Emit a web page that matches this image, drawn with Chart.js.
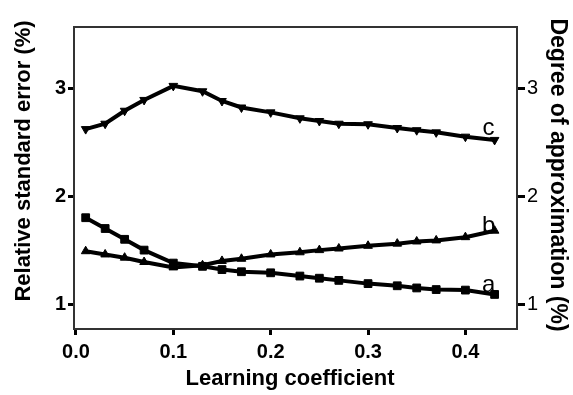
<!DOCTYPE html>
<html>
<head>
<meta charset="utf-8">
<script src="https://cdn.jsdelivr.net/npm/chart.js@4"></script>
<style>
  html, body { margin: 0; padding: 0; background: #fff; }
  #wrap { width: 573px; height: 395px; }
</style>
</head>
<body>
<div id="wrap"><canvas id="chart" width="573" height="395"></canvas></div>
<script>
// data
var learningCoef = [0.01, 0.03, 0.05, 0.07, 0.10, 0.13, 0.15, 0.17, 0.20, 0.23, 0.25, 0.27, 0.30, 0.33, 0.35, 0.37, 0.40, 0.43];
var seriesA = [1.80, 1.70, 1.60, 1.50, 1.38, 1.35, 1.32, 1.30, 1.29, 1.26, 1.24, 1.22, 1.19, 1.17, 1.15, 1.135, 1.13, 1.09];
var seriesB = [1.49, 1.46, 1.43, 1.39, 1.34, 1.36, 1.40, 1.42, 1.46, 1.48, 1.50, 1.515, 1.54, 1.56, 1.58, 1.59, 1.62, 1.68];
var seriesC = [2.62, 2.67, 2.79, 2.89, 3.02, 2.97, 2.88, 2.82, 2.775, 2.72, 2.695, 2.67, 2.665, 2.63, 2.61, 2.59, 2.55, 2.52];
var seriesNames = ['a', 'b', 'c'];
var xTicks = [0, 0.1, 0.2, 0.3, 0.4];
var yTicks = [1, 2, 3];
var xTitle = 'Learning coefficient';
var yTitle = 'Relative standard error (%)';
var y1Title = 'Degree of approximation (%)';

function pts(ys) {
    return learningCoef.map(function (x, i) { return { x: x, y: ys[i] }; });
}

var FONT = "'Liberation Sans', Arial, sans-serif";

// frame round the plot area
var frame = {
    id: 'frame',
    beforeDatasetsDraw: function (chart) {
        var a = chart.chartArea, ctx = chart.ctx;
        ctx.save();
        ctx.strokeStyle = '#333';
        ctx.lineWidth = 2;
        ctx.strokeRect(a.left, a.top, a.right - a.left, a.bottom - a.top);
        ctx.restore();
    }
};

// axis titles, placed by hand so they sit where the figure has them
var axisTitles = {
    id: 'axisTitles',
    afterDraw: function (chart) {
        var ctx = chart.ctx;
        ctx.save();
        ctx.fillStyle = '#000';
        ctx.textAlign = 'center';

        ctx.font = 'bold 22px ' + FONT;
        ctx.textBaseline = 'alphabetic';
        ctx.fillText(xTitle, 290, 385);

        ctx.textBaseline = 'middle';
        ctx.save();
        ctx.translate(24, 161);
        ctx.rotate(-Math.PI / 2);
        ctx.fillText(yTitle, 0, 0);
        ctx.restore();

        ctx.font = 'bold 23px ' + FONT;
        ctx.save();
        ctx.translate(557, 175);
        ctx.rotate(Math.PI / 2);
        ctx.fillText(y1Title, 0, 0);
        ctx.restore();
        ctx.restore();
    }
};

// a / b / c next to the last point of each curve
var endLabels = {
    id: 'endLabels',
    afterDatasetsDraw: function (chart) {
        var ctx = chart.ctx;
        var dy = [-2, 2, -5];
        ctx.save();
        ctx.font = '24px ' + FONT;
        ctx.fillStyle = '#000';
        ctx.textAlign = 'center';
        ctx.textBaseline = 'alphabetic';
        chart.data.datasets.forEach(function (ds, i) {
            var meta = chart.getDatasetMeta(i);
            var p = meta.data[meta.data.length - 1];
            ctx.fillText(seriesNames[i], p.x - 6, p.y + dy[i]);
        });
        ctx.restore();
    }
};

function lineSet(label, ys, style, rot, r, axis) {
    return {
        label: label,
        data: pts(ys),
        yAxisID: axis,
        borderColor: '#000',
        backgroundColor: '#000',
        borderWidth: 4,
        pointStyle: style,
        pointRotation: rot,
        pointRadius: r,
        pointBorderWidth: 1,
        tension: 0
    };
}

var tickFont = { family: FONT, size: 20, weight: 'bold' };

new Chart(document.getElementById('chart'), {
    type: 'line',
    data: {
        datasets: [
            lineSet('a', seriesA, 'rect', 0, 5.5, 'y'),
            lineSet('b', seriesB, 'triangle', 0, 5, 'y1'),
            lineSet('c', seriesC, 'triangle', 180, 5, 'y1')
        ]
    },
    plugins: [frame, endLabels, axisTitles],
    options: {
        responsive: false,
        animation: false,
        layout: { padding: { top: 27, left: 0, right: 0, bottom: 0 } },
        plugins: { legend: { display: false }, tooltip: { enabled: false } },
        scales: {
            x: {
                type: 'linear',
                min: -0.002,
                max: 0.453,
                afterBuildTicks: function (s) { s.ticks = xTicks.map(function (v) { return { value: v }; }); },
                afterFit: function (s) { s.height = 66; },
                border: { display: false },
                grid: { drawOnChartArea: false, color: '#000', lineWidth: 3, tickLength: 6 },
                ticks: { color: '#000', font: tickFont, padding: 5, callback: function (v) { return v.toFixed(1); } }
            },
            y: {
                position: 'left',
                min: 0.77,
                max: 3.565,
                afterBuildTicks: function (s) { s.ticks = yTicks.map(function (v) { return { value: v }; }); },
                afterFit: function (s) { s.width = 74; },
                border: { display: false },
                grid: { drawOnChartArea: false, color: '#000', lineWidth: 3, tickLength: 6 },
                ticks: { color: '#000', font: tickFont, padding: 2 }
            },
            y1: {
                position: 'right',
                min: 0.77,
                max: 3.565,
                afterBuildTicks: function (s) { s.ticks = yTicks.map(function (v) { return { value: v }; }); },
                afterFit: function (s) { s.width = 56; },
                border: { display: false },
                grid: { drawOnChartArea: false, color: '#000', lineWidth: 3, tickLength: 8 },
                ticks: { color: '#000', font: { family: FONT, size: 20 }, padding: 2 }
            }
        }
    }
});
</script>
</body>
</html>
